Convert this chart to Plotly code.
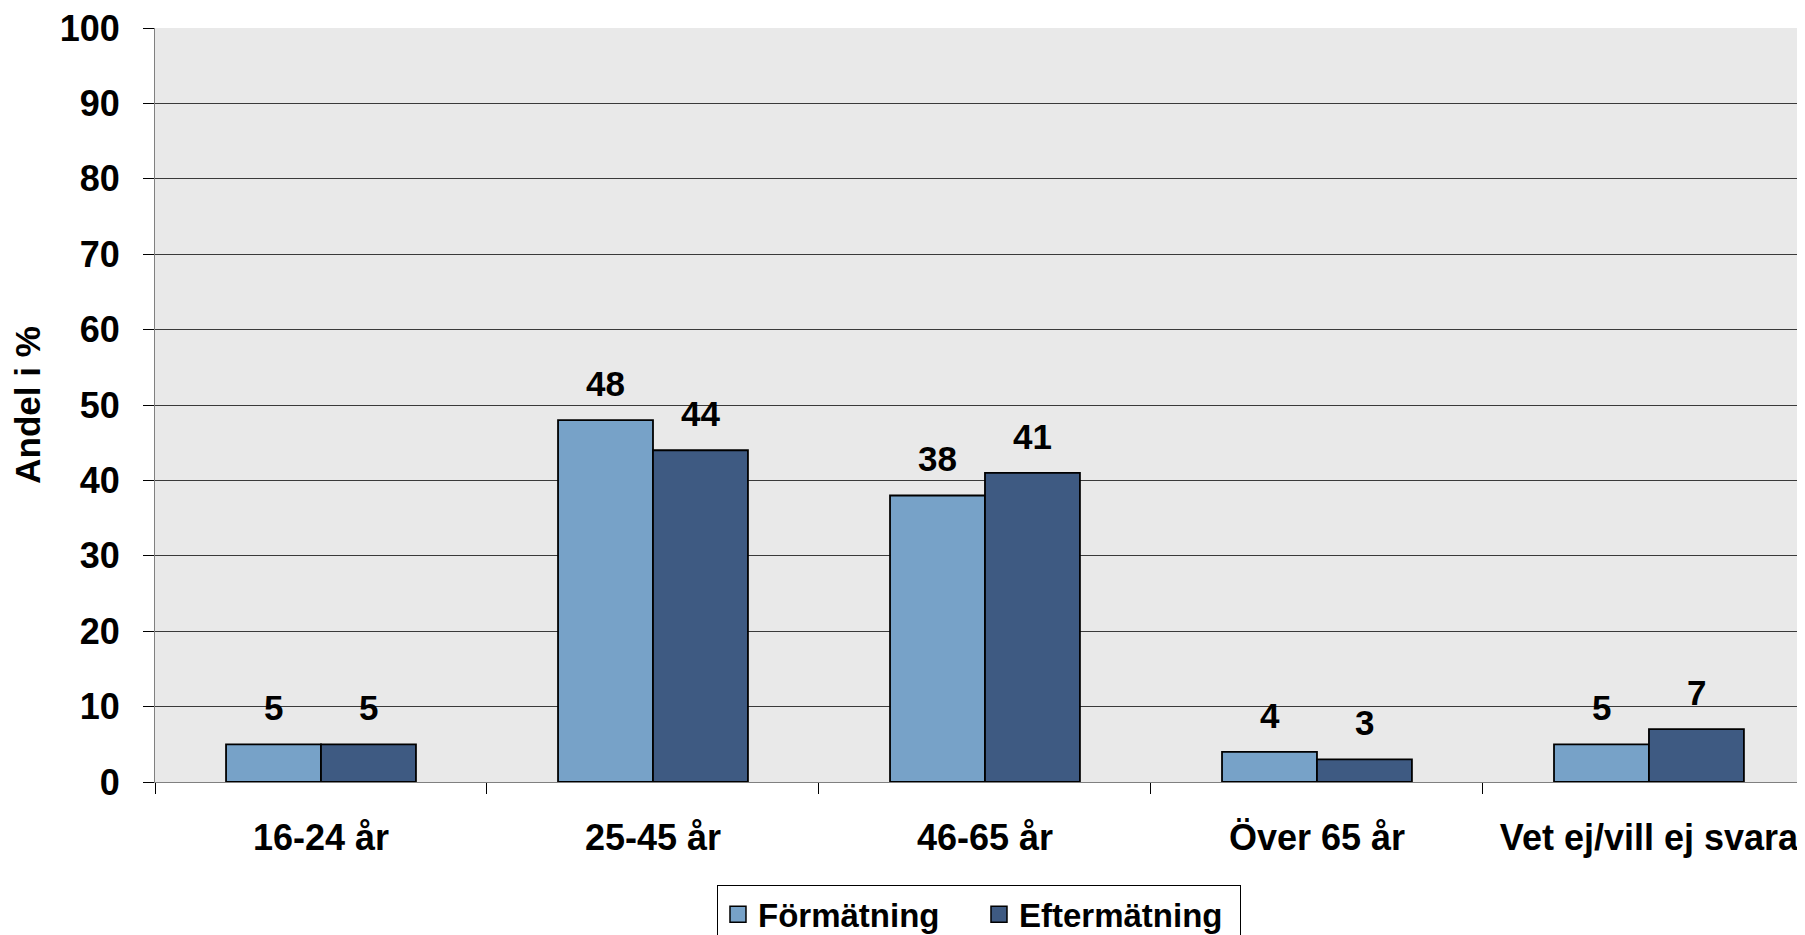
import plotly.graph_objects as go

categories = ["16-24 år", "25-45 år", "46-65 år", "Över 65 år", "Vet ej/vill ej svara"]
series_names = ["Förmätning", "Eftermätning"]
formatning = [5, 48, 38, 4, 5]
eftermatning = [5, 44, 41, 3, 7]
y_ticks = [0, 10, 20, 30, 40, 50, 60, 70, 80, 90, 100]
colors = ["#77A2C8", "#3E5A82"]

FONT = "Liberation Sans, Arial, sans-serif"
BARGAP = 0.428

fig = go.Figure()
for name, vals, col in zip(series_names, [formatning, eftermatning], colors):
    fig.add_trace(go.Bar(
        name=name, x=categories, y=vals,
        marker=dict(color=col, line=dict(color="#000000", width=1.8)),
        showlegend=False, hoverinfo="x+y",
    ))
    # legend proxy with larger square symbol
    fig.add_trace(go.Scatter(
        name=name, x=[None], y=[None], mode="markers",
        marker=dict(symbol="square", size=16, color=col, line=dict(color="#000000", width=1.5)),
        showlegend=True,
    ))

# data labels above bars
half = (1 - BARGAP) / 4
for si, vals in enumerate([formatning, eftermatning]):
    off = -half if si == 0 else half
    for i, v in enumerate(vals):
        fig.add_annotation(
            x=i + off, y=v, xref="x", yref="y", text=f"<b>{v}</b>",
            showarrow=False, yanchor="bottom", yshift=15,
            font=dict(family=FONT, size=35, color="#000000"),
        )

# the page body adds an 8px offset, so the figure is 8px smaller than the window
fig.update_layout(
    width=1797, height=927,
    margin=dict(l=147, r=0, t=20, b=153, autoexpand=False),
    paper_bgcolor="#FFFFFF", plot_bgcolor="#E9E9E9",
    barmode="group", bargap=BARGAP, bargroupgap=0,
    font=dict(family=FONT, color="#000000"),
    legend=dict(
        orientation="h", x=0.3406, y=-0.137, xanchor="left", yanchor="top",
        bgcolor="#FFFFFF", bordercolor="#000000", borderwidth=1,
        font=dict(family=FONT, size=33, color="#000000", weight="bold"),
        itemwidth=30, tracegroupgap=0, entrywidth=216, entrywidthmode="pixels",
    ),
    xaxis=dict(
        type="category", range=[-0.5, 4.47], automargin=False,
        showgrid=False, showline=True, linecolor="#808080", linewidth=1,
        ticks="outside", tickson="boundaries", ticklen=11, tickcolor="#000000",
        tickfont=dict(family=FONT, size=36, color="#000000", weight="bold"),
        ticklabelstandoff=24, ticklabeloverflow="allow",
    ),
    yaxis=dict(
        range=[0, 100], tickvals=y_ticks, ticktext=[str(t) for t in y_ticks],
        automargin=False,
        showgrid=True, gridcolor="#3A3A3A", gridwidth=1,
        showline=True, linecolor="#808080", linewidth=1,
        ticks="outside", ticklen=11, tickcolor="#000000",
        tickfont=dict(family=FONT, size=36, color="#000000", weight="bold"),
        ticklabelstandoff=16, ticklabeloverflow="allow",
        zeroline=False,
        title=dict(text="<b>Andel i %</b>", font=dict(family=FONT, size=35, color="#000000"), standoff=20),
    ),
)

fig.write_html("out.html")
